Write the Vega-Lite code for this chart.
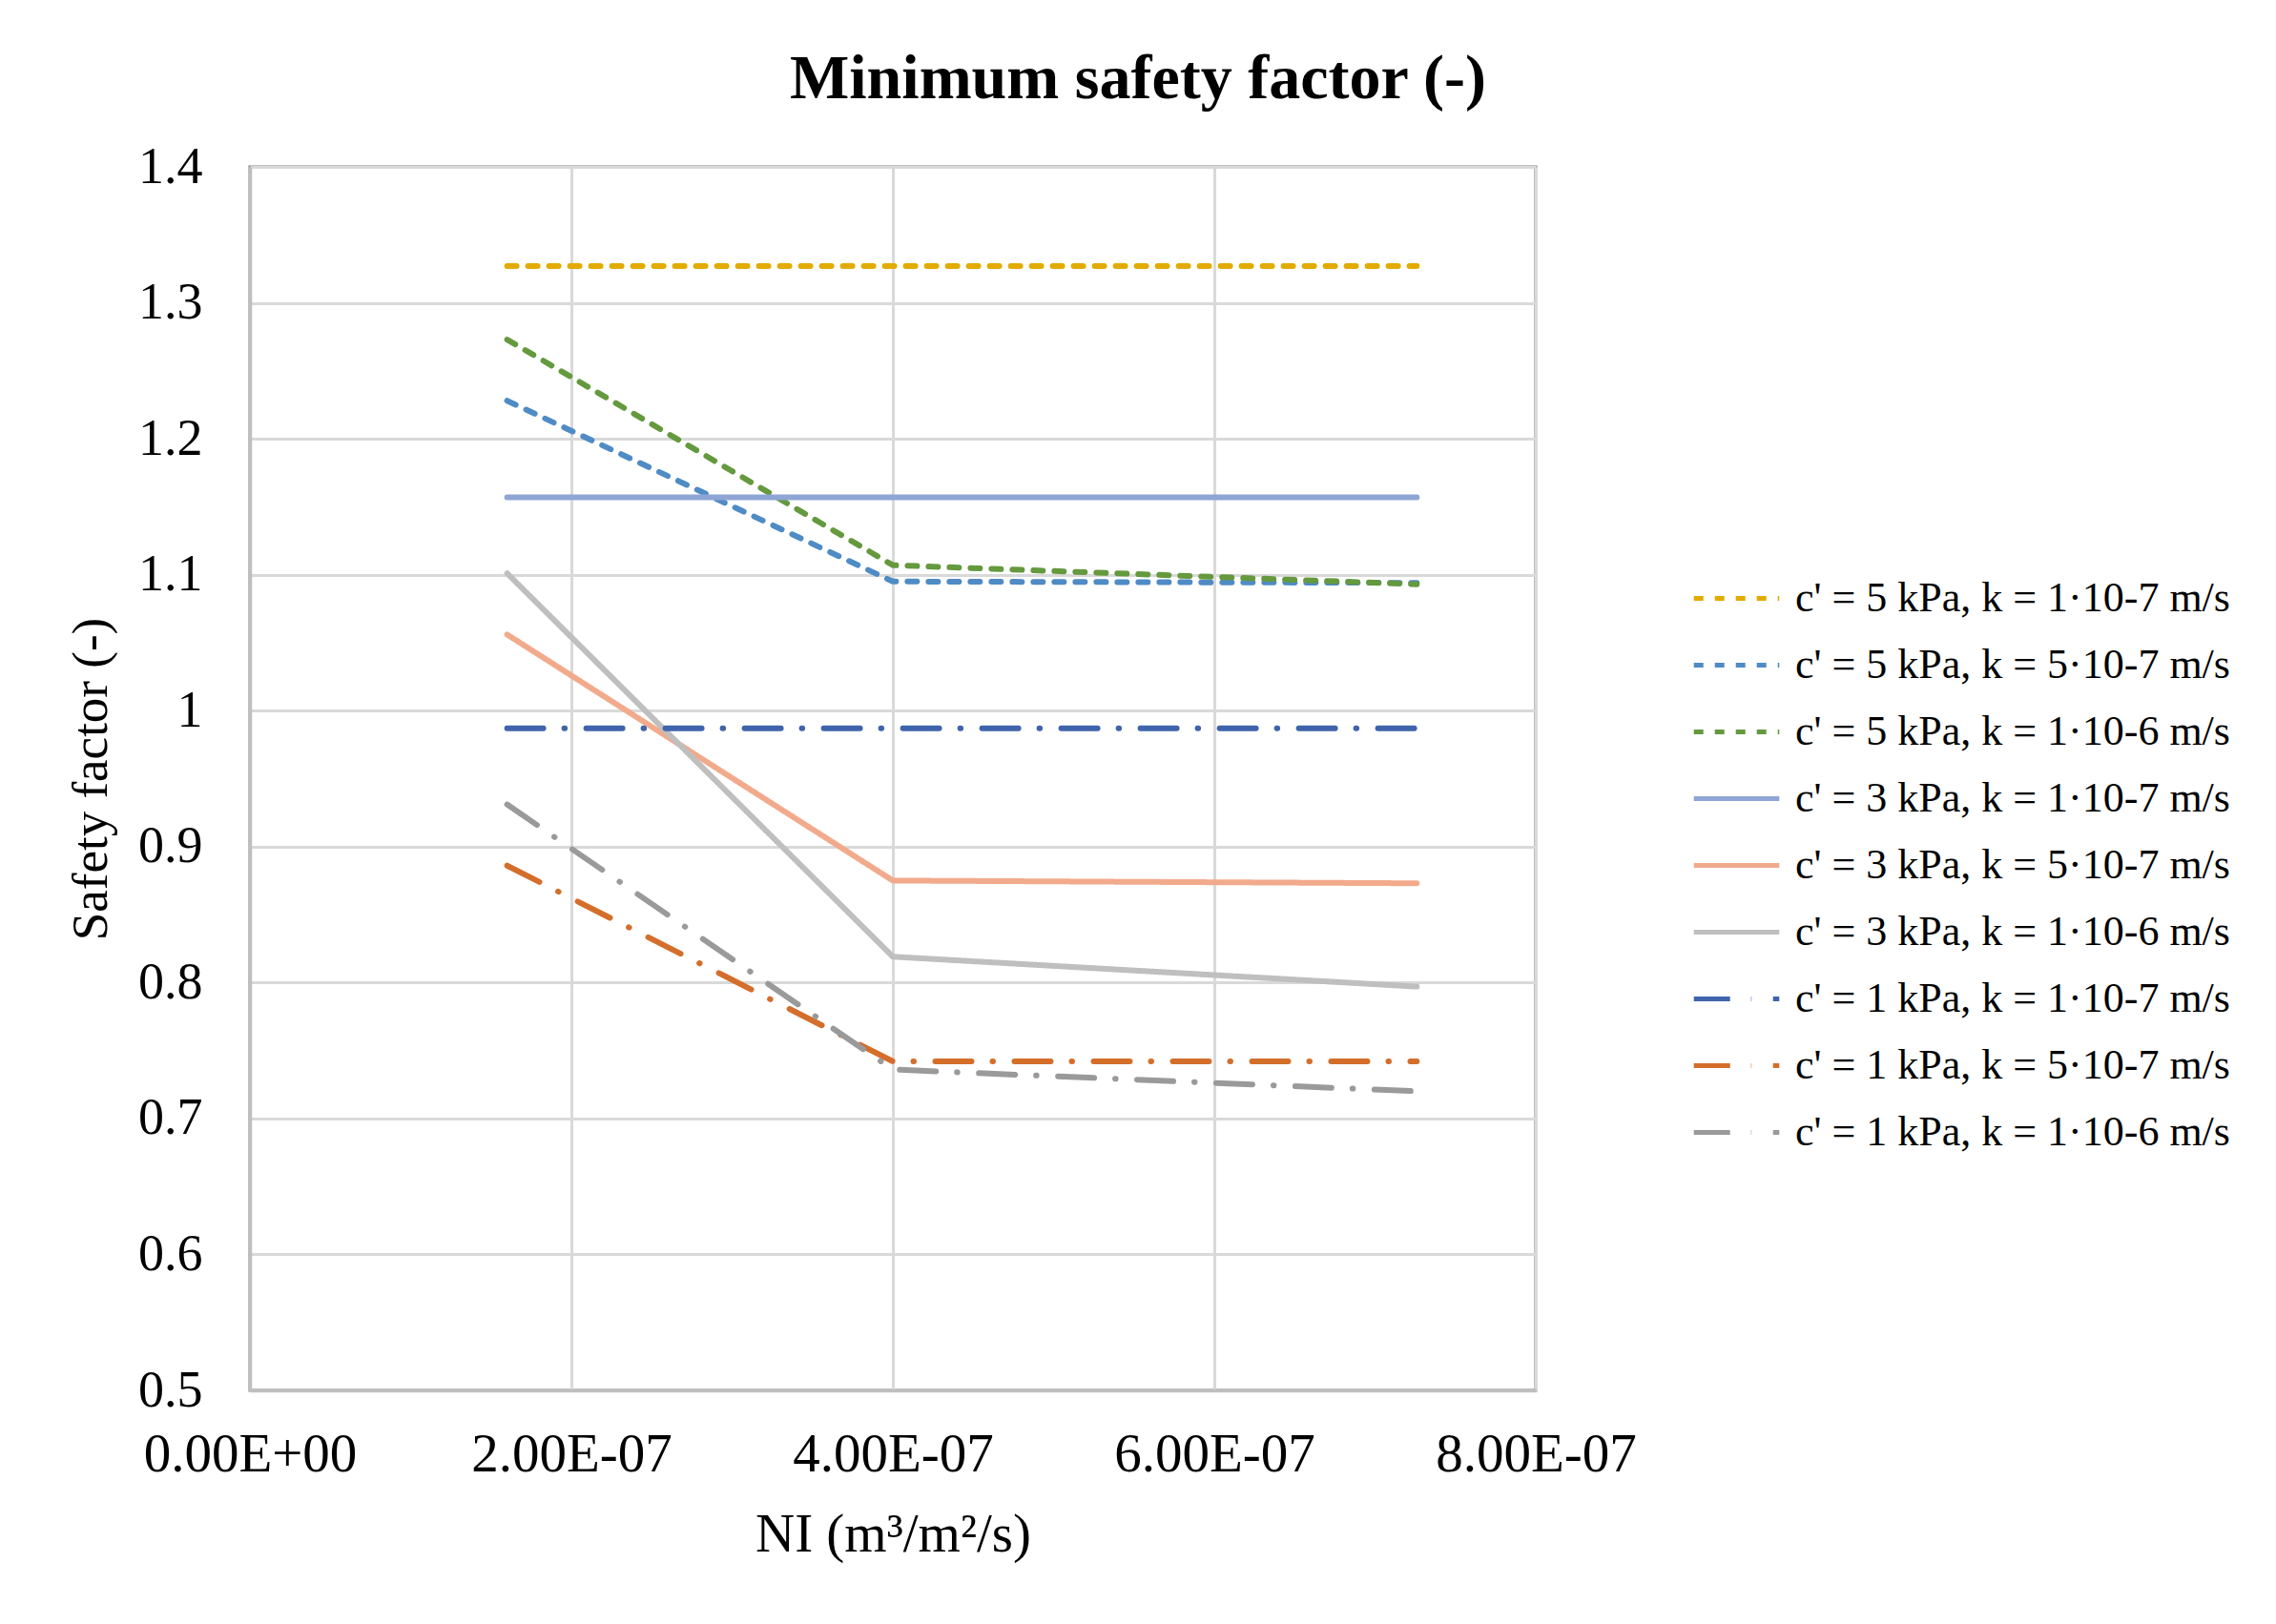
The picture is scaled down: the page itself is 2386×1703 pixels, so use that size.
{
  "$schema": "https://vega.github.io/schema/vega-lite/v6.json",
  "autosize": {"type": "none"},
  "width": 1348,
  "height": 1283,
  "padding": {"left": 262, "top": 175, "right": 776, "bottom": 245},
  "background": "white",
  "title": {
    "text": "Minimum safety factor (-)",
    "font": "Liberation Serif",
    "fontSize": 66,
    "fontWeight": "bold",
    "color": "#000000",
    "anchor": "middle",
    "dx": 257,
    "baseline": "alphabetic",
    "offset": -21
  },
  "data": {
    "values": [
      {"NI": 1.6e-7, "SF": 1.327, "series": "c' = 5 kPa, k = 1·10-7 m/s"},
      {"NI": 4.0e-7, "SF": 1.327, "series": "c' = 5 kPa, k = 1·10-7 m/s"},
      {"NI": 7.26e-7, "SF": 1.327, "series": "c' = 5 kPa, k = 1·10-7 m/s"},
      {"NI": 1.6e-7, "SF": 1.228, "series": "c' = 5 kPa, k = 5·10-7 m/s"},
      {"NI": 4.0e-7, "SF": 1.095, "series": "c' = 5 kPa, k = 5·10-7 m/s"},
      {"NI": 7.26e-7, "SF": 1.094, "series": "c' = 5 kPa, k = 5·10-7 m/s"},
      {"NI": 1.6e-7, "SF": 1.273, "series": "c' = 5 kPa, k = 1·10-6 m/s"},
      {"NI": 4.0e-7, "SF": 1.107, "series": "c' = 5 kPa, k = 1·10-6 m/s"},
      {"NI": 7.26e-7, "SF": 1.093, "series": "c' = 5 kPa, k = 1·10-6 m/s"},
      {"NI": 1.6e-7, "SF": 1.157, "series": "c' = 3 kPa, k = 1·10-7 m/s"},
      {"NI": 4.0e-7, "SF": 1.157, "series": "c' = 3 kPa, k = 1·10-7 m/s"},
      {"NI": 7.26e-7, "SF": 1.157, "series": "c' = 3 kPa, k = 1·10-7 m/s"},
      {"NI": 1.6e-7, "SF": 1.056, "series": "c' = 3 kPa, k = 5·10-7 m/s"},
      {"NI": 4.0e-7, "SF": 0.875, "series": "c' = 3 kPa, k = 5·10-7 m/s"},
      {"NI": 7.26e-7, "SF": 0.873, "series": "c' = 3 kPa, k = 5·10-7 m/s"},
      {"NI": 1.6e-7, "SF": 1.101, "series": "c' = 3 kPa, k = 1·10-6 m/s"},
      {"NI": 4.0e-7, "SF": 0.819, "series": "c' = 3 kPa, k = 1·10-6 m/s"},
      {"NI": 7.26e-7, "SF": 0.797, "series": "c' = 3 kPa, k = 1·10-6 m/s"},
      {"NI": 1.6e-7, "SF": 0.987, "series": "c' = 1 kPa, k = 1·10-7 m/s"},
      {"NI": 4.0e-7, "SF": 0.987, "series": "c' = 1 kPa, k = 1·10-7 m/s"},
      {"NI": 7.26e-7, "SF": 0.987, "series": "c' = 1 kPa, k = 1·10-7 m/s"},
      {"NI": 1.6e-7, "SF": 0.886, "series": "c' = 1 kPa, k = 5·10-7 m/s"},
      {"NI": 4.0e-7, "SF": 0.742, "series": "c' = 1 kPa, k = 5·10-7 m/s"},
      {"NI": 7.26e-7, "SF": 0.742, "series": "c' = 1 kPa, k = 5·10-7 m/s"},
      {"NI": 1.6e-7, "SF": 0.931, "series": "c' = 1 kPa, k = 1·10-6 m/s"},
      {"NI": 4.0e-7, "SF": 0.736, "series": "c' = 1 kPa, k = 1·10-6 m/s"},
      {"NI": 7.26e-7, "SF": 0.720, "series": "c' = 1 kPa, k = 1·10-6 m/s"}
    ]
  },
  "mark": {"type": "line", "strokeWidth": 6, "strokeCap": "round", "strokeJoin": "round"},
  "encoding": {
    "x": {
      "field": "NI",
      "type": "quantitative",
      "scale": {"domain": [0, 8e-7], "nice": false},
      "axis": {
        "values": [0, 2e-7, 4e-7, 6e-7, 8e-7],
        "labelExpr": "datum.value == 0 ? '0.00E+00' : format(datum.value / 1e-7, '.2f') + 'E-07'",
        "labelLimit": 1000,
        "labelFontSize": 57,
        "titleFontSize": 57,
        "title": "NI (m³/m²/s)",
        "titlePadding": 28,
        "labelPadding": 39,
        "labelBaseline": "top"
      }
    },
    "y": {
      "field": "SF",
      "type": "quantitative",
      "scale": {"domain": [0.5, 1.4], "nice": false, "zero": false},
      "axis": {
        "values": [0.5, 0.6, 0.7, 0.8, 0.9, 1.0, 1.1, 1.2, 1.3, 1.4],
        "format": ".1~f",
        "labelFontSize": 54,
        "titleFontSize": 53,
        "title": "Safety factor (-)",
        "titlePadding": 22,
        "labelPadding": 50
      }
    },
    "color": {
      "field": "series",
      "type": "nominal",
      "scale": {
        "domain": [
          "c' = 5 kPa, k = 1·10-7 m/s",
          "c' = 5 kPa, k = 5·10-7 m/s",
          "c' = 5 kPa, k = 1·10-6 m/s",
          "c' = 3 kPa, k = 1·10-7 m/s",
          "c' = 3 kPa, k = 5·10-7 m/s",
          "c' = 3 kPa, k = 1·10-6 m/s",
          "c' = 1 kPa, k = 1·10-7 m/s",
          "c' = 1 kPa, k = 5·10-7 m/s",
          "c' = 1 kPa, k = 1·10-6 m/s"
        ],
        "range": ["#E3AB00", "#4F8BC5", "#65993E", "#8EA5D5", "#F2AA8C", "#BFBFBF", "#3F64AC", "#D46E2B", "#9A9A9A"]
      },
      "legend": {"title": null}
    },
    "strokeDash": {
      "field": "series",
      "type": "nominal",
      "scale": {
        "domain": [
          "c' = 5 kPa, k = 1·10-7 m/s",
          "c' = 5 kPa, k = 5·10-7 m/s",
          "c' = 5 kPa, k = 1·10-6 m/s",
          "c' = 3 kPa, k = 1·10-7 m/s",
          "c' = 3 kPa, k = 5·10-7 m/s",
          "c' = 3 kPa, k = 1·10-6 m/s",
          "c' = 1 kPa, k = 1·10-7 m/s",
          "c' = 1 kPa, k = 5·10-7 m/s",
          "c' = 1 kPa, k = 1·10-6 m/s"
        ],
        "range": [[10, 12], [10, 12], [10, 12], [1, 0], [1, 0], [1, 0], [38, 22, 0.5, 22.5], [38, 22, 0.5, 22.5], [38, 22, 0.5, 22.5]]
      },
      "legend": {"title": null}
    }
  },
  "config": {
    "view": {"stroke": "#808080", "strokeWidth": 3},
    "font": "Liberation Serif",
    "axis": {
      "labelFont": "Liberation Serif",
      "labelFontSize": 52,
      "labelColor": "#000000",
      "titleFont": "Liberation Serif",
      "titleFontSize": 52,
      "titleFontWeight": "normal",
      "titleColor": "#000000",
      "ticks": false,
      "domainColor": "#BFBFBF",
      "domainWidth": 3.5,
      "gridColor": "#D9D9D9",
      "gridWidth": 3,
      "gridOpacity": 1,
      "labelFlush": false,
      "labelOverlap": false
    },
    "legend": {
      "orient": "none",
      "legendX": 1511,
      "legendY": 405,
      "labelFont": "Liberation Serif",
      "labelFontSize": 44,
      "labelColor": "#000000",
      "labelLimit": 1000,
      "labelOffset": 14,
      "symbolType": "stroke",
      "symbolSize": 8028,
      "symbolStrokeWidth": 5,
      "rowPadding": 0
    }
  }
}
